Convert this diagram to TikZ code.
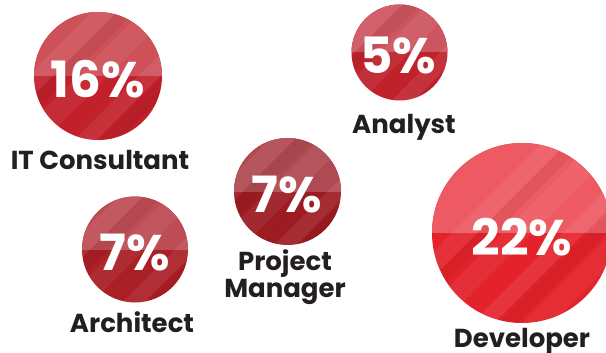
\documentclass[tikz,border=0pt]{standalone}
\usepackage{fontspec}
\setmainfont{Poppins}
\definecolor{ink}{HTML}{231F20}
\definecolor{aT}{HTML}{CE5059}\definecolor{aB}{HTML}{C2202A}
\definecolor{bT}{HTML}{CD5560}\definecolor{bB}{HTML}{C0222C}
\definecolor{cT}{HTML}{B04A52}\definecolor{cB}{HTML}{9C1C22}
\definecolor{dT}{HTML}{BE4C54}\definecolor{dB}{HTML}{AA1E26}
\definecolor{eT}{HTML}{EE5A63}\definecolor{eB}{HTML}{E4222C}
\tikzset{
  badge/.style n args={3}{circle, inner sep=0pt, minimum size=#3,
    path picture={
      \coordinate (c) at (path picture bounding box.center);
      \fill[#2] ([shift={(-120,-120)}]c) rectangle ([shift={(120,120)}]c);
      \fill[#1] ([shift={(-120,0)}]c) rectangle ([shift={(120,-120)}]c);
      \foreach \d/\w/\o in {-70/25/0.07, -20/30/0.06, 40/22/0.08, 90/30/0.05}{
        \fill[white,opacity=\o] ([shift={(\d-200,200)}]c) -- ([shift={(\d+200,-200)}]c)
          -- ([shift={(\d+200+\w,-200)}]c) -- ([shift={(\d-200+\w,200)}]c) -- cycle;
      }
      \foreach \d/\w in {-45/18, 65/20}{
        \fill[black,opacity=0.05] ([shift={(\d-200,200)}]c) -- ([shift={(\d+200,-200)}]c)
          -- ([shift={(\d+200+\w,-200)}]c) -- ([shift={(\d-200+\w,200)}]c) -- cycle;
      }
    }},
  pct/.style={text=white, font=\fontsize{50}{50}\selectfont\bfseries, inner sep=0pt, anchor=center},
  lbl/.style={text=ink, font=\fontsize{26}{24}\selectfont\bfseries, inner sep=0pt, anchor=base, align=center}
}
\begin{document}
\begin{tikzpicture}[x=1pt,y=-1pt]
\useasboundingbox (0,0) rectangle (606,353);
% IT Consultant
\node[badge={aT}{aB}{128pt}] (c1) at (98,76) {};
\node[pct] (p1) at (98,79) {16\%};
\node[lbl] (l1) at (100,170) {IT Consultant};
% Analyst
\node[badge={bT}{bB}{96pt}] (c2) at (399.5,52.5) {};
\node[pct] (p2) at (398,56) {5\%};
\node[lbl] (l2) at (404,133) {Analyst};
% Project Manager
\node[badge={cT}{cB}{107pt}] (c3) at (287.5,191.5) {};
\node[pct] (p3) at (287,195) {7\%};
\node[lbl] (l3) at (285,297) {Project\\Manager};
% Architect
\node[badge={dT}{dB}{106pt}] (c4) at (135,249.5) {};
\node[pct] (p4) at (135,253) {7\%};
\node[lbl] (l4) at (132,332) {Architect};
% Developer
\node[badge={eT}{eB}{180pt}] (c5) at (522,233) {};
\node[pct] (p5) at (522,237) {22\%};
\node[lbl] (l5) at (522,347) {Developer};
\end{tikzpicture}
\end{document}
